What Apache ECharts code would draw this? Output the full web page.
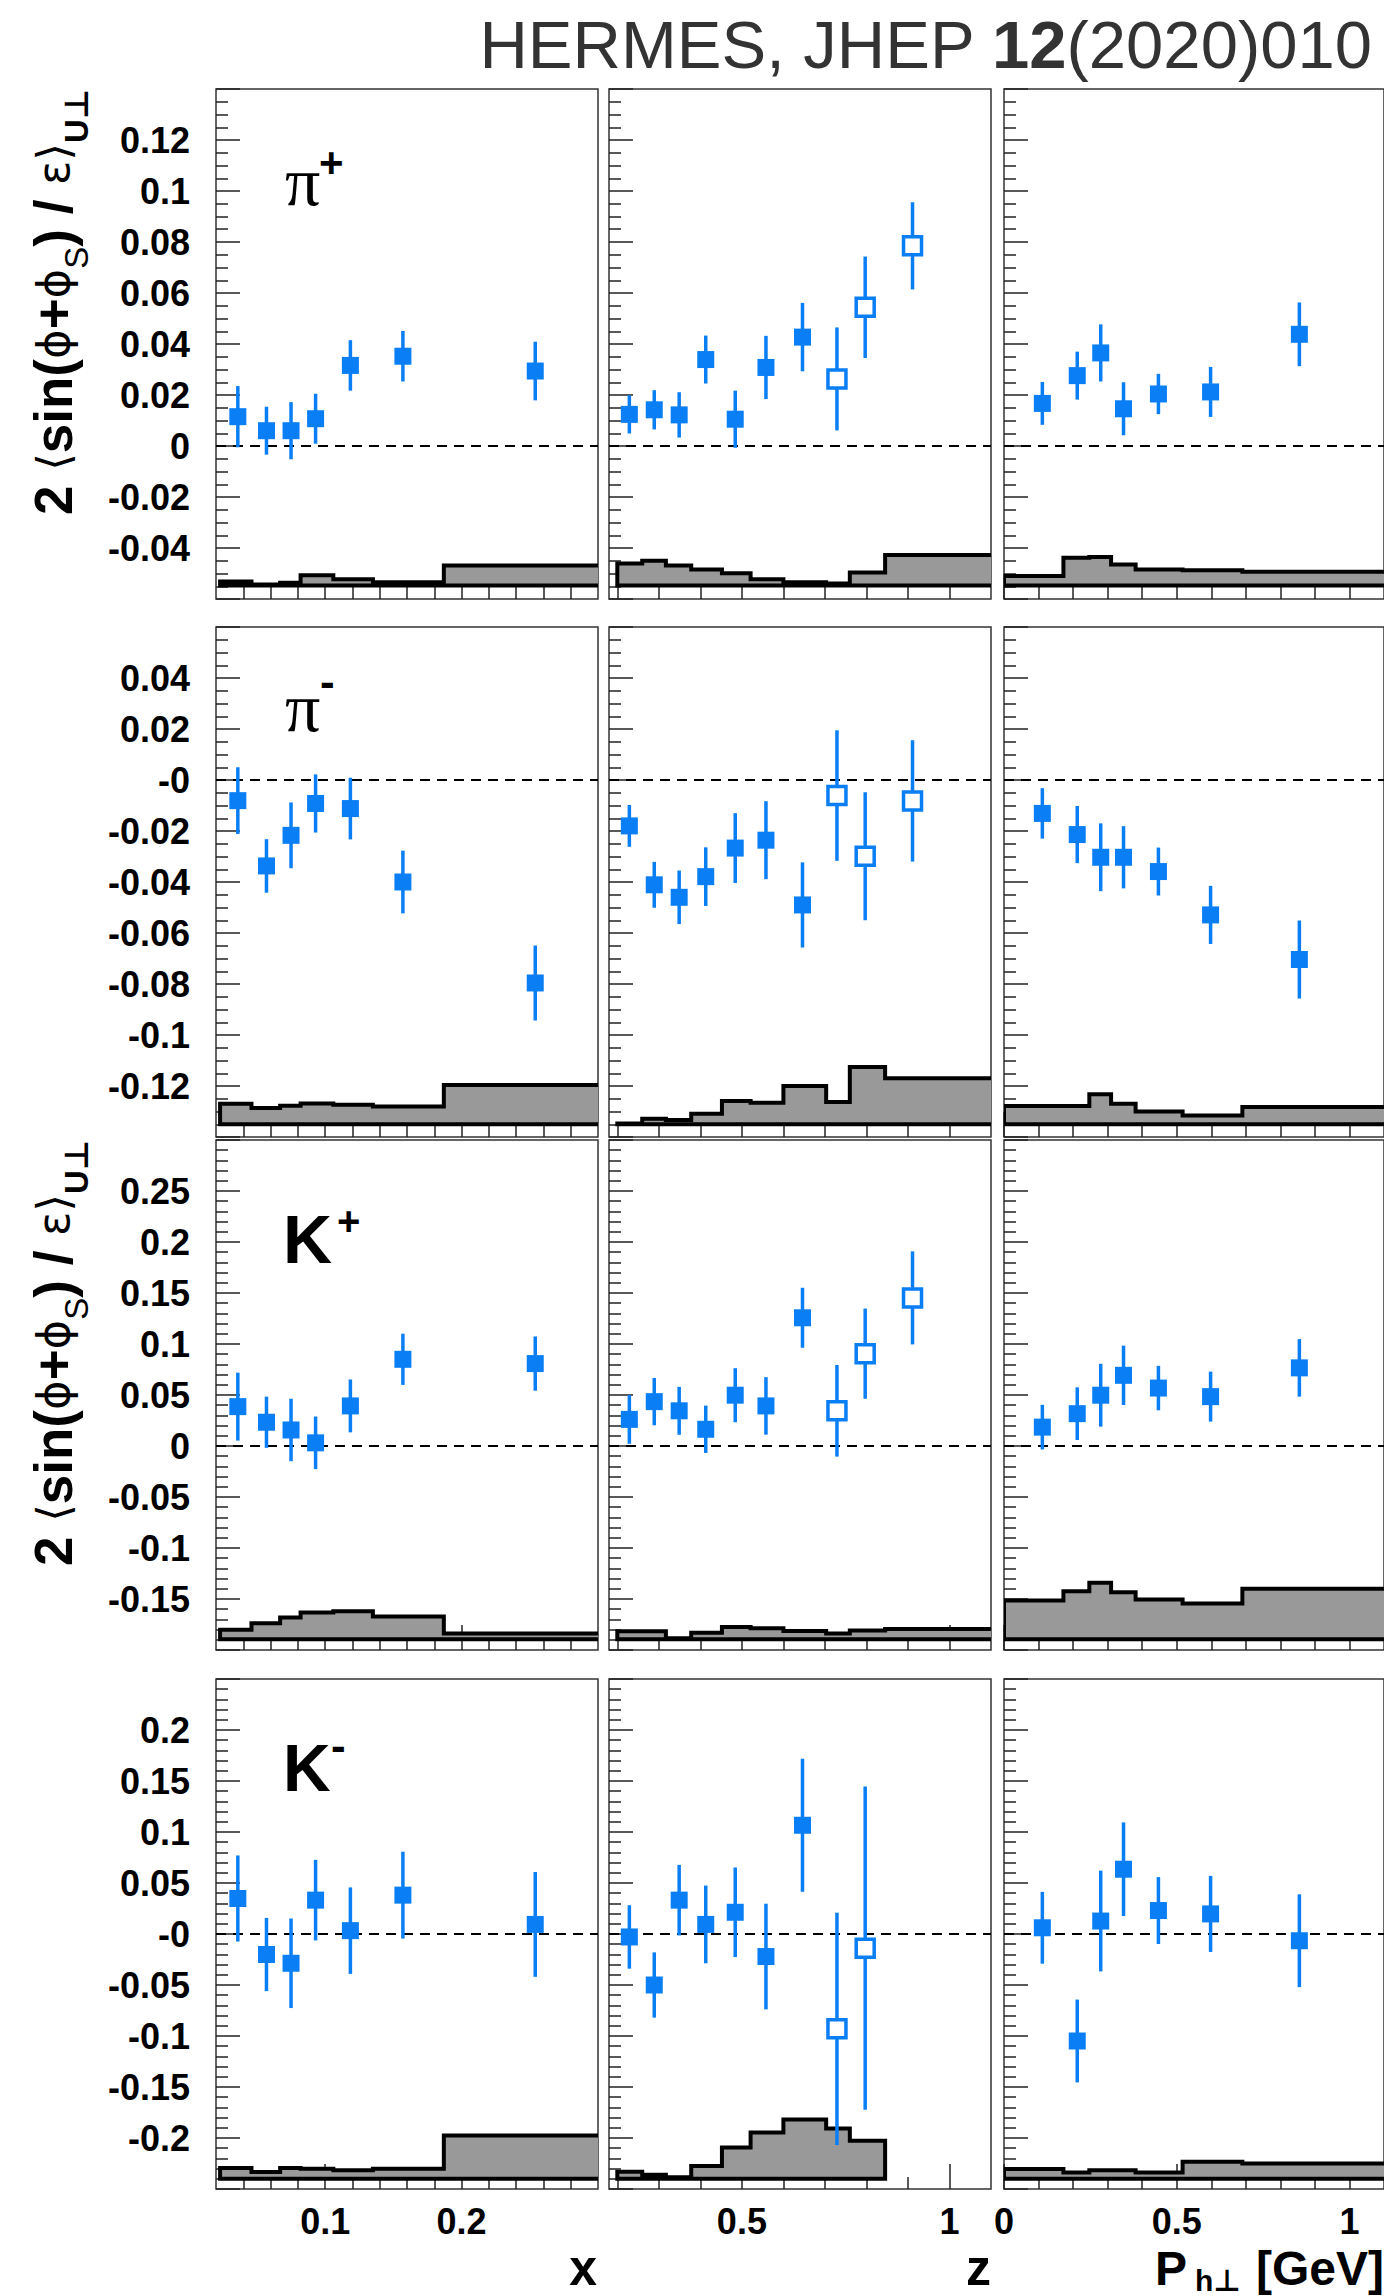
<!DOCTYPE html>
<html><head><meta charset="utf-8">
<script src="https://cdn.jsdelivr.net/npm/echarts@6/dist/echarts.min.js"></script>
<style>html,body{margin:0;padding:0;background:#fff;}#c{width:1384px;height:2296px;}</style>
</head><body><div id="c"></div>
<script>
// ---------------- DATA ----------------
const xMean  = [0.036, 0.057, 0.075, 0.093, 0.1185, 0.157, 0.254];
const zMean  = [0.229, 0.289, 0.349, 0.413, 0.484, 0.558, 0.646, 0.729, 0.797, 0.911];
const phMean = [0.111, 0.212, 0.280, 0.346, 0.447, 0.598, 0.855];
const zOpenFrom = 7;   // z bins from this index are drawn as open squares

// systematic-band bin edges
const xEdges  = [0.023, 0.046, 0.067, 0.082, 0.106, 0.135, 0.187, 0.6];
const zEdges  = [0.2, 0.26, 0.317, 0.378, 0.452, 0.521, 0.6, 0.703, 0.76, 0.845, 1.2];
const phEdges = [0.0, 0.172, 0.247, 0.31, 0.381, 0.517, 0.69, 2.0];

// pi+
const pipX = [0.0115, 0.006, 0.006, 0.0107, 0.0316, 0.0352, 0.0294];
const pipXErr = [0.012, 0.0094, 0.0112, 0.0098, 0.0099, 0.0099, 0.0115];
const pipXSys = [0.0016, 0.0004, 0.0011, 0.004, 0.0024, 0.0013, 0.0078];
const pipZ = [0.0124, 0.0142, 0.0122, 0.0339, 0.0105, 0.0308, 0.0427, 0.0263, 0.0544, 0.0785];
const pipZErr = [0.0075, 0.0077, 0.0089, 0.0094, 0.0112, 0.0124, 0.0134, 0.0202, 0.0199, 0.0171];
const pipZSys = [0.0086, 0.0097, 0.0078, 0.0063, 0.0048, 0.0024, 0.0013, 0.0008, 0.0051, 0.012];
const pipPh = [0.0167, 0.0276, 0.0365, 0.0146, 0.0204, 0.0212, 0.0438];
const pipPhErr = [0.0084, 0.0094, 0.0112, 0.0104, 0.0079, 0.0098, 0.0125];
const pipPhSys = [0.0037, 0.0109, 0.0112, 0.0082, 0.0063, 0.006, 0.0054];
// pi-
const pimX = [-0.0081, -0.0337, -0.0217, -0.0092, -0.0112, -0.040, -0.0796];
const pimXErr = [0.0131, 0.0105, 0.0129, 0.0114, 0.0121, 0.0123, 0.0147];
const pimXSys = [0.008, 0.0064, 0.0073, 0.0081, 0.0076, 0.007, 0.0154];
const pimZ = [-0.018, -0.0411, -0.046, -0.0379, -0.0267, -0.0236, -0.049, -0.0061, -0.0299, -0.0082];
const pimZErr = [0.0082, 0.009, 0.0105, 0.0115, 0.0137, 0.0153, 0.0167, 0.0256, 0.0251, 0.0238];
const pimZSys = [0.0003, 0.0022, 0.0017, 0.0041, 0.0091, 0.0084, 0.015, 0.0087, 0.0225, 0.018];
const pimPh = [-0.0131, -0.0214, -0.0303, -0.0303, -0.0359, -0.0529, -0.0704];
const pimPhErr = [0.0099, 0.0112, 0.0133, 0.0122, 0.0094, 0.0114, 0.0153];
const pimPhSys = [0.0072, 0.0072, 0.0118, 0.008, 0.005, 0.0034, 0.0068];
// K+
const kpX = [0.0386, 0.0233, 0.0157, 0.0031, 0.0393, 0.085, 0.0808];
const kpXErr = [0.0333, 0.0251, 0.0306, 0.0258, 0.0259, 0.0251, 0.0266];
const kpXSys = [0.0094, 0.0158, 0.0214, 0.0262, 0.0275, 0.0224, 0.0057];
const kpZ = [0.0261, 0.0435, 0.0345, 0.0164, 0.0498, 0.0393, 0.1257, 0.0345, 0.0905, 0.1452];
const kpZErr = [0.0239, 0.0232, 0.0235, 0.0232, 0.0265, 0.0282, 0.0294, 0.0449, 0.0442, 0.0456];
const kpZSys = [0.0079, 0.0079, 0.001, 0.0063, 0.0121, 0.0109, 0.0082, 0.0057, 0.0086, 0.0102];
const kpPh = [0.0185, 0.0317, 0.0498, 0.0693, 0.0568, 0.0484, 0.0766];
const kpPhErr = [0.0219, 0.0258, 0.0308, 0.0291, 0.0218, 0.0245, 0.0282];
const kpPhSys = [0.0381, 0.047, 0.0554, 0.046, 0.039, 0.0351, 0.0495];
// K-
const kmX = [0.0348, -0.0201, -0.0287, 0.0332, 0.0033, 0.0381, 0.0094];
const kmXErr = [0.0422, 0.0359, 0.0439, 0.0395, 0.0424, 0.0426, 0.0514];
const kmXSys = [0.0105, 0.0067, 0.0105, 0.0098, 0.0085, 0.0099, 0.0425];
const kmZ = [-0.0029, -0.05, 0.0332, 0.0094, 0.0213, -0.0221, 0.1066, -0.093, -0.0139];
const kmZErr = [0.0311, 0.032, 0.0346, 0.0381, 0.0439, 0.0518, 0.0652, 0.1139, 0.1584];
const kmZSys = [0.0068, 0.004, 0.0014, 0.0126, 0.0307, 0.0455, 0.0581, 0.0494, 0.0374];
const kmPh = [0.0061, -0.1049, 0.0127, 0.0635, 0.023, 0.0197, -0.0066];
const kmPhErr = [0.0352, 0.0406, 0.0494, 0.0459, 0.0328, 0.0373, 0.0455];
const kmPhSys = [0.0097, 0.0062, 0.0085, 0.0085, 0.0062, 0.0166, 0.015];

// band baselines per hadron
const bandBase = [-0.0547, -0.135, -0.1895, -0.24];

// y-axis ranges and tick labels per hadron row
const yMin = [-0.06, -0.14, -0.2, -0.25];
const yMax = [0.14, 0.06, 0.3, 0.25];
const yStep = [0.02, 0.02, 0.05, 0.05];
const yMinorSplit = [4, 4, 5, 5];
const yTicksPip = [-0.04, -0.02, 0, 0.02, 0.04, 0.06, 0.08, 0.1, 0.12];
const yLabelsPip = ['-0.04', '-0.02', '0', '0.02', '0.04', '0.06', '0.08', '0.1', '0.12'];
const yTicksPim = [-0.12, -0.1, -0.08, -0.06, -0.04, -0.02, 0, 0.02, 0.04];
const yLabelsPim = ['-0.12', '-0.1', '-0.08', '-0.06', '-0.04', '-0.02', '-0', '0.02', '0.04'];
const yTicksKp = [-0.15, -0.1, -0.05, 0, 0.05, 0.1, 0.15, 0.2, 0.25];
const yLabelsKp = ['-0.15', '-0.1', '-0.05', '0', '0.05', '0.1', '0.15', '0.2', '0.25'];
const yTicksKm = [-0.2, -0.15, -0.1, -0.05, 0, 0.05, 0.1, 0.15, 0.2];
const yLabelsKm = ['-0.2', '-0.15', '-0.1', '-0.05', '-0', '0.05', '0.1', '0.15', '0.2'];

// x-axis ranges and ticks per column
const xRange = [0.02, 0.3], zRange = [0.18, 1.1], phRange = [0.0, 1.1];
const xMajor = [0.1, 0.2], xMajorLabels = ['0.1', '0.2'];
const xMinor = [0.04, 0.06, 0.08, 0.12, 0.14, 0.16, 0.18, 0.22, 0.24, 0.26, 0.28];
const zMajor = [0.5, 1.0], zMajorLabels = ['0.5', '1'];
const zMinor = [0.2, 0.3, 0.4, 0.6, 0.7, 0.8, 0.9];
const phMajor = [0.0, 0.5, 1.0], phMajorLabels = ['0', '0.5', '1'];
const phMinor = [0.1, 0.2, 0.3, 0.4, 0.6, 0.7, 0.8, 0.9];

// ---------------- LAYOUT ----------------
const BLUE = '#0a7ef5';
const FONT = '"Liberation Sans", Arial, Helvetica, sans-serif';
const SYMF = '"DejaVu Sans", "Liberation Sans", sans-serif';
const colLeft = [216, 609, 1004], colW = 382;
const rowTop = [89, 627, 1140, 1679], rowH = 510;

const cols = [
  {range: xRange, major: xMajor, majorLabels: xMajorLabels, minor: xMinor, mean: xMean, edges: xEdges},
  {range: zRange, major: zMajor, majorLabels: zMajorLabels, minor: zMinor, mean: zMean, edges: zEdges},
  {range: phRange, major: phMajor, majorLabels: phMajorLabels, minor: phMinor, mean: phMean, edges: phEdges}
];
const rows = [
  {ticks: yTicksPip, labels: yLabelsPip, vals: [pipX, pipZ, pipPh], errs: [pipXErr, pipZErr, pipPhErr], sys: [pipXSys, pipZSys, pipPhSys]},
  {ticks: yTicksPim, labels: yLabelsPim, vals: [pimX, pimZ, pimPh], errs: [pimXErr, pimZErr, pimPhErr], sys: [pimXSys, pimZSys, pimPhSys]},
  {ticks: yTicksKp, labels: yLabelsKp, vals: [kpX, kpZ, kpPh], errs: [kpXErr, kpZErr, kpPhErr], sys: [kpXSys, kpZSys, kpPhSys]},
  {ticks: yTicksKm, labels: yLabelsKm, vals: [kmX, kmZ, kmPh], errs: [kmXErr, kmZErr, kmPhErr], sys: [kmXSys, kmZSys, kmPhSys]}
];

function lookup(vals, txt) {
  return function (v) {
    for (let i = 0; i < vals.length; i++) if (Math.abs(vals[i] - v) < 1e-9) return txt[i];
    return '';
  };
}
const tickLine = {color: '#222', width: 1.5};

const grids = [], xAxes = [], yAxes = [], series = [];
rows.forEach((row, r) => {
  cols.forEach((col, c) => {
    const g = grids.length;
    grids.push({left: colLeft[c], top: rowTop[r], width: colW, height: rowH, show: true,
      borderColor: '#333', borderWidth: 1.5, backgroundColor: 'rgba(0,0,0,0)'});
    const xa = xAxes.length;
    xAxes.push({gridIndex: g, type: 'value', position: 'bottom', min: col.range[0], max: col.range[1],
      axisLine: {show: false, onZero: false}, splitLine: {show: false},
      axisTick: {show: true, inside: true, length: 12, customValues: col.minor, lineStyle: tickLine},
      axisLabel: {show: false}});
    xAxes.push({gridIndex: g, type: 'value', position: 'bottom', min: col.range[0], max: col.range[1],
      axisLine: {show: false, onZero: false}, splitLine: {show: false},
      axisTick: {show: true, inside: true, length: 25, customValues: col.major, lineStyle: tickLine},
      axisLabel: {show: r === 3, customValues: col.major, formatter: lookup(col.major, col.majorLabels),
        margin: 14, fontSize: 36, fontWeight: 'bold', fontFamily: FONT, color: '#000'}});
    yAxes.push({gridIndex: g, type: 'value', min: yMin[r], max: yMax[r], interval: yStep[r],
      axisLine: {show: false, onZero: false}, splitLine: {show: false},
      axisTick: {show: true, inside: true, length: 24, lineStyle: tickLine},
      minorTick: {show: true, splitNumber: yMinorSplit[r], length: 12, lineStyle: tickLine},
      minorSplitLine: {show: false},
      axisLabel: {show: c === 0, customValues: row.ticks, formatter: lookup(row.ticks, row.labels),
        margin: 26, fontSize: 36, fontWeight: 'bold', fontFamily: FONT, color: '#000'}});

    const vals = row.vals[c], errs = row.errs[c], sys = row.sys[c];
    const edges = col.edges, base = bandBase[r];
    const openFrom = c === 1 ? zOpenFrom : 999;

    // systematic band (step histogram)
    series.push({type: 'custom', xAxisIndex: xa, yAxisIndex: g, clip: true, silent: true, z: 1,
      data: [[edges[0], base]],
      renderItem: function (params, api) {
        const pts = [api.coord([edges[0], base])];
        for (let i = 0; i < sys.length; i++) {
          pts.push(api.coord([edges[i], base + sys[i]]));
          pts.push(api.coord([edges[i + 1], base + sys[i]]));
        }
        pts.push(api.coord([edges[sys.length], base]));
        return {type: 'polygon', shape: {points: pts},
          style: {fill: '#999999', stroke: '#000', lineWidth: 4, lineJoin: 'miter'}};
      }});
    // zero line
    series.push({type: 'line', xAxisIndex: xa, yAxisIndex: g, silent: true, z: 2, symbol: 'none',
      data: [[col.range[0], 0], [col.range[1], 0]],
      lineStyle: {color: '#000', width: 2, type: [10, 7]}});
    // error bars
    series.push({type: 'custom', xAxisIndex: xa, yAxisIndex: g, clip: true, silent: true, z: 3,
      encode: {x: 0, y: 1},
      data: vals.map((v, i) => [col.mean[i], v, errs[i]]),
      renderItem: function (params, api) {
        const a = api.coord([api.value(0), api.value(1) - api.value(2)]);
        const b = api.coord([api.value(0), api.value(1) + api.value(2)]);
        return {type: 'line', shape: {x1: a[0], y1: a[1], x2: b[0], y2: b[1]},
          style: {stroke: BLUE, lineWidth: 3.5}};
      }});
    // filled markers
    series.push({type: 'scatter', xAxisIndex: xa, yAxisIndex: g, silent: true, z: 4,
      symbol: 'rect', symbolSize: 17, itemStyle: {color: BLUE, opacity: 1},
      data: vals.map((v, i) => [col.mean[i], v]).filter((d, i) => i < openFrom)});
    // open markers
    series.push({type: 'scatter', xAxisIndex: xa, yAxisIndex: g, silent: true, z: 4,
      symbol: 'rect', symbolSize: 18, itemStyle: {color: '#fff', borderColor: BLUE, borderWidth: 3.5, opacity: 1},
      data: vals.map((v, i) => [col.mean[i], v]).filter((d, i) => i >= openFrom)});
  });
});

// ---------------- TEXT ----------------
const yTitleRich = {
  n: {fontSize: 53, fontWeight: 'bold', fontFamily: FONT, fill: '#000', lineHeight: 80, verticalAlign: 'middle'},
  s: {fontSize: 45, fontFamily: SYMF, fill: '#000', lineHeight: 80, verticalAlign: 'middle'},
  sub: {fontSize: 33, fontFamily: FONT, fill: '#000', lineHeight: 33, verticalAlign: 'bottom'},
  subb: {fontSize: 33, fontWeight: 'bold', fontFamily: FONT + ', "DejaVu Sans"', fill: '#000', lineHeight: 33, verticalAlign: 'bottom'}
};
const yTitle = '{n|2 }{s|⟨}{n|sin(}{s|ϕ}{n|+}{s|ϕ}{sub|S}{n|) / }{s|ε⟩}{subb|U⊥}';

function txt(x, y, text, size, weight, family, align, vAlign) {
  return {type: 'text', x: x, y: y, z: 100, silent: true,
    style: {text: text, fontSize: size, fontWeight: weight, fontFamily: family, fill: '#000',
      align: align || 'left', verticalAlign: vAlign || 'middle'}};
}
const SERIF = '"Liberation Serif", "DejaVu Serif", serif';

const graphics = [
  {type: 'text', x: 1372, y: 44, z: 100, silent: true,
    style: {text: '{n|HERMES, JHEP }{b|12}{n|(2020)010}', align: 'right', verticalAlign: 'middle',
      rich: {n: {fontSize: 67, fontFamily: FONT, fill: '#333'},
             b: {fontSize: 67, fontFamily: FONT, fontWeight: 'bold', fill: '#333'}}}},
  {type: 'text', x: 53, y: 89, rotation: Math.PI / 2, z: 100, silent: true,
    style: {text: yTitle, align: 'right', verticalAlign: 'middle', rich: yTitleRich}},
  {type: 'text', x: 53, y: 1140, rotation: Math.PI / 2, z: 100, silent: true,
    style: {text: yTitle, align: 'right', verticalAlign: 'middle', rich: yTitleRich}},
  // particle labels
  txt(285, 181, 'π', 70, 'normal', SERIF),
  txt(319, 162, '+', 42, 'bold', FONT),
  txt(285, 707, 'π', 70, 'normal', SERIF),
  txt(320, 681, '-', 44, 'bold', FONT),
  txt(283, 1239, 'K', 68, 'bold', FONT),
  txt(337, 1221, '+', 40, 'bold', FONT),
  txt(283, 1768, 'K', 66, 'bold', FONT),
  txt(331, 1745, '-', 44, 'bold', FONT),
  // axis titles
  txt(597, 2268, 'x', 50, 'bold', FONT, 'right'),
  txt(991, 2268, 'z', 50, 'bold', FONT, 'right'),
  txt(1155, 2268, 'P', 48, 'bold', FONT, 'left'),
  txt(1195, 2295, 'h⊥', 30, 'bold', FONT + ', "DejaVu Sans"', 'left', 'bottom'),
  txt(1384, 2268, '[GeV]', 48, 'bold', FONT, 'right')
];

const chart = echarts.init(document.getElementById('c'), null, {renderer: 'svg', width: 1384, height: 2296});
chart.setOption({
  animation: false,
  backgroundColor: '#fff',
  grid: grids, xAxis: xAxes, yAxis: yAxes, series: series, graphic: graphics
});
</script></body></html>
